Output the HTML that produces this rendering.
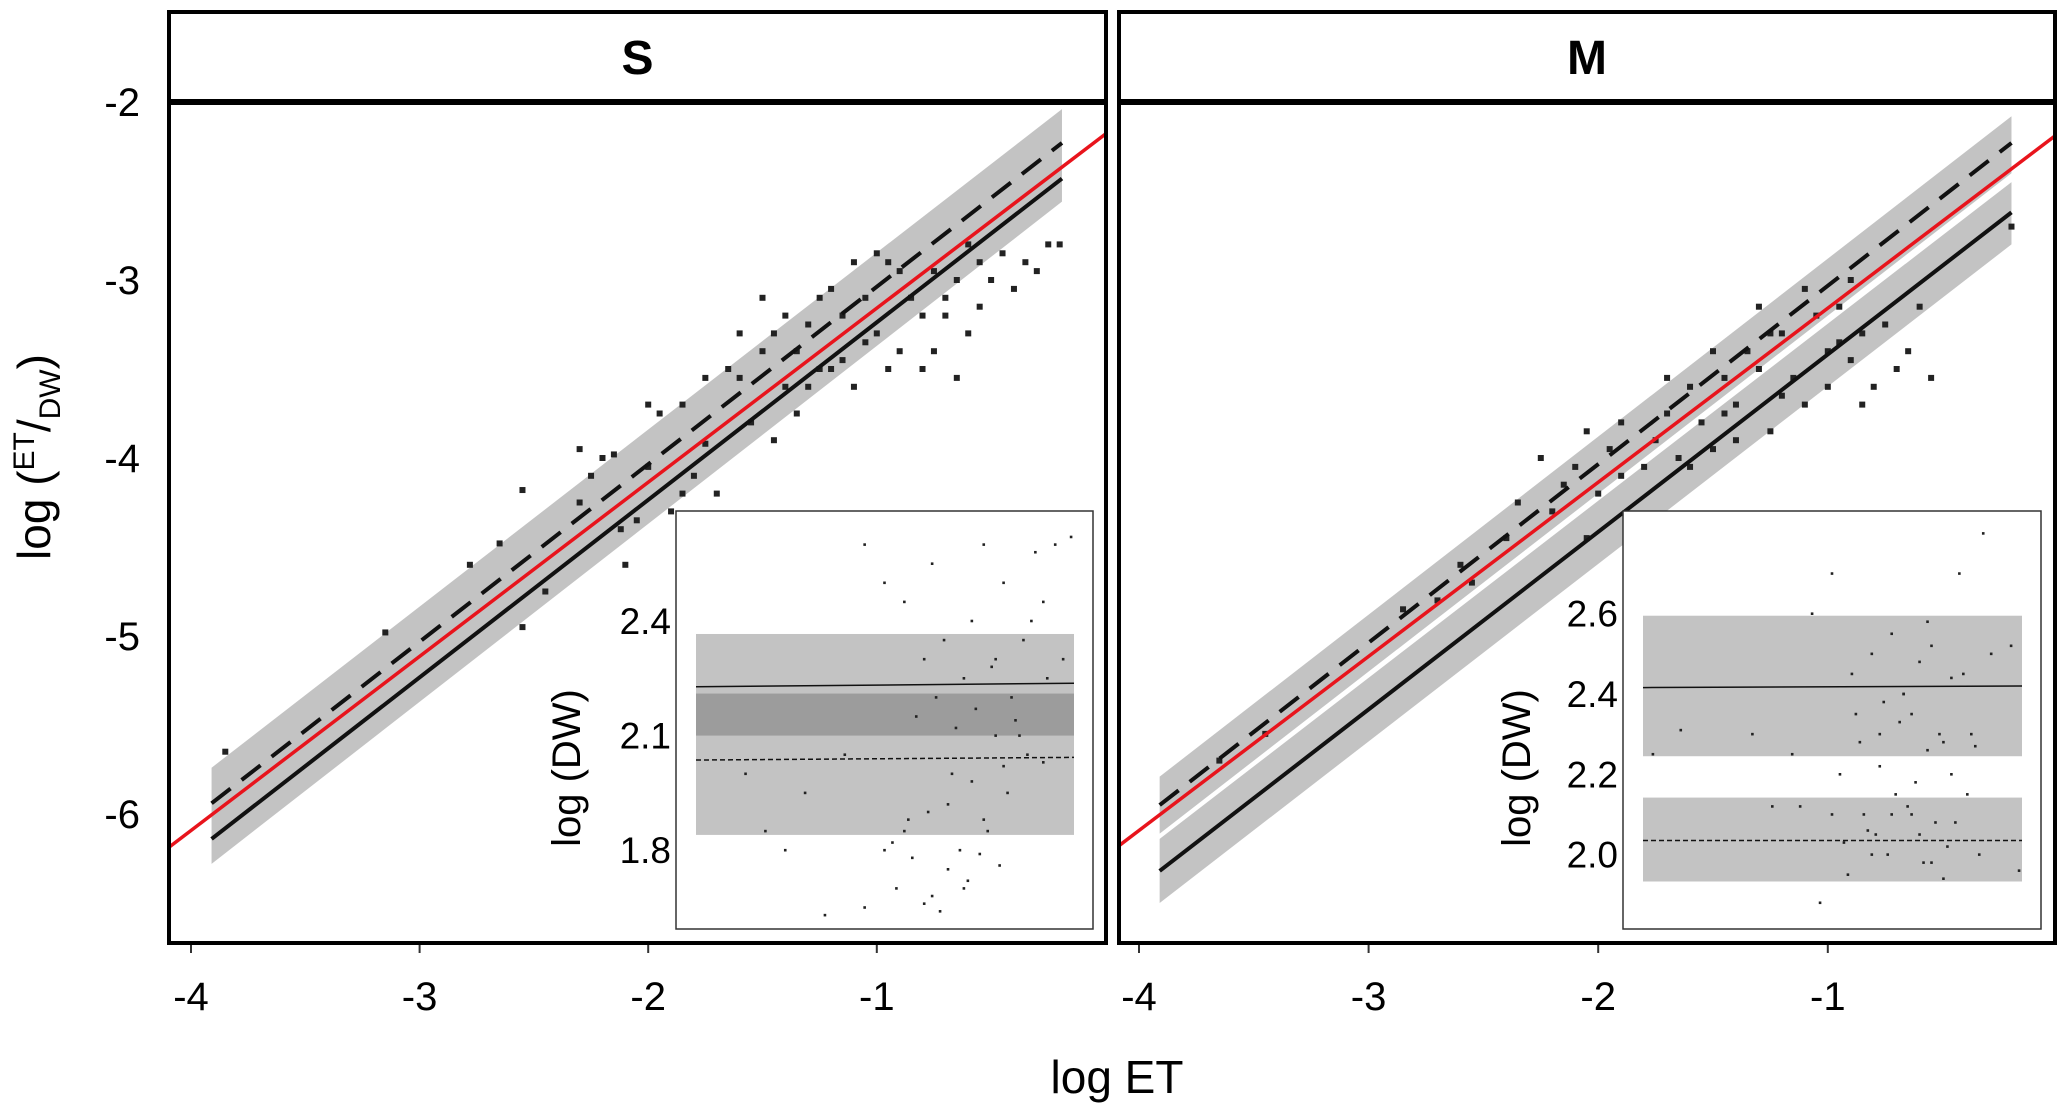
<!DOCTYPE html>
<html><head><meta charset="utf-8"><style>
html,body{margin:0;padding:0;background:#fff;}
svg{display:block;font-family:"Liberation Sans",Arial,sans-serif;}
</style></head><body>
<svg id="chart" width="2067" height="1115" viewBox="0 0 2067 1115" xmlns="http://www.w3.org/2000/svg">
<g id="gS"></g>
<g id="gM"></g>
<text x="1117" y="1093" font-size="46" text-anchor="middle">log ET</text>
<text transform="translate(50,457) rotate(-90)" font-size="46" text-anchor="middle">log (<tspan font-size="30" dy="-16">ET</tspan><tspan dy="16">/</tspan><tspan font-size="30" dy="10">DW</tspan><tspan dy="-10">)</tspan></text>
</svg>
<script>
const xTicks=[-4,-3,-2,-1];
const yTicks=[-2,-3,-4,-5,-6];
const redLine=[[-4.13,-6.22],[0,-2.18]];
const sDashed=[[-3.91,-5.94],[-0.19,-2.23]];
const sSolid=[[-3.91,-6.14],[-0.19,-2.43]];
const sBand=[[-3.91,-5.74,-6.28],[-0.19,-2.04,-2.56]];
const mDashed=[[-3.91,-5.95],[-0.20,-2.23]];
const mSolid=[[-3.91,-6.32],[-0.20,-2.62]];
const mBandD=[[-3.91,-5.79,-6.11],[-0.20,-2.08,-2.40]];
const mBandS=[[-3.91,-6.14,-6.50],[-0.20,-2.45,-2.80]];
const sPtsX=[-3.85,-3.15,-2.78,-2.65,-2.55,-2.55,-2.45,-2.3,-2.25,-2.2,-2.15,-2.12,-2.1,-2.05,-2.0,-1.95,-1.9,-1.85,-1.8,-1.75,-1.7,-1.65,-1.6,-1.55,-1.5,-1.45,-1.4,-1.35,-1.3,-1.25,-1.2,-1.15,-1.1,-1.05,-1.0,-0.95,-0.9,-0.85,-0.8,-0.75,-0.7,-0.65,-0.6,-0.55,-0.5,-0.45,-0.4,-0.35,-0.3,-0.25,-0.2,-1.6,-1.5,-1.4,-1.3,-1.2,-1.1,-1.0,-0.9,-0.8,-0.7,-0.6,-1.75,-1.85,-2.0,-2.3,-1.35,-1.25,-1.05,-0.95,-0.75,-0.65,-0.55,-1.45,-1.15];
const sPtsY=[-5.65,-4.98,-4.6,-4.48,-4.18,-4.95,-4.75,-3.95,-4.1,-4.0,-3.98,-4.4,-4.6,-4.35,-3.7,-3.75,-4.3,-4.2,-4.1,-3.92,-4.2,-3.5,-3.55,-3.8,-3.4,-3.9,-3.6,-3.4,-3.25,-3.5,-3.05,-3.2,-3.6,-3.1,-3.3,-2.9,-3.4,-3.1,-3.2,-3.4,-3.2,-3.0,-3.3,-3.15,-3.0,-2.85,-3.05,-2.9,-2.95,-2.8,-2.8,-3.3,-3.1,-3.2,-3.6,-3.5,-2.9,-2.85,-2.95,-3.5,-3.1,-2.8,-3.55,-3.7,-4.05,-4.25,-3.75,-3.1,-3.35,-3.5,-2.95,-3.55,-2.9,-3.3,-3.45];
const mPtsX=[-3.65,-3.45,-2.85,-2.7,-2.6,-2.55,-2.4,-2.25,-2.2,-2.15,-2.1,-2.05,-2.0,-1.95,-1.9,-1.85,-1.8,-1.75,-1.7,-1.65,-1.6,-1.55,-1.5,-1.45,-1.4,-1.35,-1.3,-1.25,-1.2,-1.15,-1.1,-1.05,-1.0,-0.95,-0.9,-0.85,-0.8,-0.75,-0.7,-0.65,-0.6,-0.55,-0.2,-1.9,-1.7,-1.5,-1.3,-1.1,-0.9,-1.6,-1.4,-1.2,-1.0,-0.85,-2.35,-2.05,-1.8,-1.45,-1.25,-0.95];
const mPtsY=[-5.7,-5.55,-4.85,-4.8,-4.6,-4.7,-4.45,-4.0,-4.3,-4.15,-4.05,-3.85,-4.2,-3.95,-4.1,-4.35,-4.4,-3.9,-3.75,-4.0,-3.6,-3.8,-3.95,-3.55,-3.7,-3.4,-3.5,-3.85,-3.3,-3.55,-3.7,-3.2,-3.4,-3.15,-3.45,-3.3,-3.6,-3.25,-3.5,-3.4,-3.15,-3.55,-2.7,-3.8,-3.55,-3.4,-3.15,-3.05,-3.0,-4.05,-3.9,-3.65,-3.6,-3.7,-4.25,-4.45,-4.05,-3.75,-3.3,-3.35];
/* insets: x as fraction of inset plot width */
const sInsetTicks=[2.4,2.1,1.8];
const sInsetLight=[2.366,1.84];
const sInsetDark=[2.21,2.10];
const sInsetSolid=[2.228,2.237];
const sInsetDashed=[2.036,2.043];
const sInX=[0.45,0.5,0.55,0.6,0.62,0.65,0.7,0.72,0.75,0.78,0.8,0.82,0.85,0.88,0.9,0.93,0.95,0.97,0.58,0.63,0.68,0.73,0.77,0.83,0.87,0.91,0.4,0.3,0.25,0.2,0.15,0.52,0.57,0.66,0.71,0.76,0.81,0.86,0.56,0.61,0.67,0.74,0.79,0.84,0.53,0.6,0.64,0.69,0.35,0.45,0.5,0.55,0.7,0.75,0.8,0.9,0.62,0.66,0.72,0.78];
const sInY=[2.6,2.5,2.45,2.3,2.55,2.35,2.25,2.4,2.6,2.3,2.5,2.2,2.35,2.58,2.45,2.6,2.3,2.62,2.15,2.2,2.12,2.17,2.28,2.14,2.4,2.25,2.05,1.95,1.8,1.85,2.0,1.82,1.78,1.75,1.72,1.85,1.95,2.05,1.88,1.9,2.0,1.79,1.76,2.1,1.7,1.66,1.64,1.8,1.63,1.65,1.8,1.85,1.7,1.88,2.02,2.03,1.68,1.92,1.98,2.1];
const mInsetTicks=[2.6,2.4,2.2,2.0];
const mInsetUpper=[2.595,2.245];
const mInsetLower=[2.142,1.933];
const mInsetSolid=[2.416,2.420];
const mInsetDashed=[2.035,2.035];
const mInX=[0.05,0.12,0.3,0.35,0.4,0.45,0.5,0.55,0.6,0.62,0.65,0.68,0.7,0.72,0.75,0.78,0.8,0.82,0.85,0.88,0.95,0.97,0.52,0.57,0.63,0.67,0.71,0.74,0.77,0.83,0.58,0.61,0.64,0.69,0.73,0.76,0.79,0.5,0.54,0.59,0.66,0.7,0.75,0.81,0.87,0.47,0.53,0.6,0.65,0.72,0.78,0.84,0.42,0.56,0.62,0.68,0.74,0.8,0.86,0.9];
const mInY=[2.25,2.31,2.3,2.12,2.25,2.6,2.7,2.45,2.5,2.3,2.55,2.4,2.35,2.48,2.52,2.28,2.44,2.7,2.3,2.8,2.52,1.96,2.2,2.28,2.38,2.33,2.18,2.26,2.3,2.45,2.1,2.05,2.0,2.12,1.98,2.08,2.02,2.1,1.95,2.06,2.15,2.1,1.98,2.08,2.0,1.88,2.03,2.0,2.1,2.05,1.94,2.15,2.12,2.35,2.22,2.4,2.58,2.2,2.27,2.5];

const NS='http://www.w3.org/2000/svg';
function mk(parent,tag,attrs){const e=document.createElementNS(NS,tag);for(const k in attrs)e.setAttribute(k,attrs[k]);parent.appendChild(e);return e;}

function panel(g,cfg){
  const X=v=>cfg.x0+(v+4)*cfg.kx;
  const Y=v=>102+(-2-v)*178;
  for(const band of cfg.bands){
    const p=`${X(band[0][0])},${Y(band[0][1])} ${X(band[1][0])},${Y(band[1][1])} ${X(band[1][0])},${Y(band[1][2])} ${X(band[0][0])},${Y(band[0][2])}`;
    const b=mk(g,'polygon',{points:p,fill:'#c3c3c3'});
    
    
  }
  for(let i=0;i<cfg.px.length;i++){
    const c=mk(g,'rect',{x:X(cfg.px[i])-3,y:Y(cfg.py[i])-3,width:6,height:6,fill:'#222'});
    
    
  }
  const ln=(pts,st,dash,w,name)=>{const l=mk(g,'line',{x1:X(pts[0][0]),y1:Y(pts[0][1]),x2:X(pts[1][0]),y2:Y(pts[1][1]),stroke:st,'stroke-width':w});if(dash)l.setAttribute('stroke-dasharray',dash);
    
    };
  ln(cfg.dashed,'#111','24,14',4,'dashed-fit-line');
  ln(cfg.solid,'#111',null,4,'solid-fit-line');
  const r=redLine, xl=(cfg.left-cfg.x0)/cfg.kx-4, xr=(cfg.right-cfg.x0)/cfg.kx-4;
  const sl=(r[1][1]-r[0][1])/(r[1][0]-r[0][0]);
  const rl=mk(g,'line',{x1:cfg.left,y1:Y(r[0][1]+sl*(xl-r[0][0])),x2:cfg.right,y2:Y(r[0][1]+sl*(xr-r[0][0])),stroke:'#e8141c','stroke-width':3.5});
  
  
  const ins=cfg.inset, IY=v=>ins.yRef+(ins.vRef-v)*ins.k;
  const ibg=mk(g,'rect',{x:ins.x,y:511,width:ins.w,height:418,fill:'#fff',stroke:'#333','stroke-width':1.5});
  
  
  for(const bd of ins.bands){
    const r2=mk(g,'rect',{x:ins.bx0,y:IY(bd.v[0]),width:ins.bx1-ins.bx0,height:IY(bd.v[1])-IY(bd.v[0]),fill:bd.c});
    
    
  }
  for(let i=0;i<ins.px.length;i++){
    const d=mk(g,'rect',{x:ins.x+10+ins.px[i]*(ins.w-20)-1.3,y:IY(ins.py[i])-1.3,width:2.6,height:2.6,fill:'#222'});
    
    
  }
  const il=(v,dash,name)=>{const l=mk(g,'line',{x1:ins.bx0,y1:IY(v[0]),x2:ins.bx1,y2:IY(v[1]),stroke:'#111','stroke-width':1.5});if(dash)l.setAttribute('stroke-dasharray','5,3');
    
    };
  il(ins.solid,null,'inset-solid-line');il(ins.dashed,true,'inset-dashed-line');
  for(const t of ins.ticks){
    const tt=mk(g,'text',{x:ins.x-5,y:IY(t)+13,'font-size':37,'text-anchor':'end'});tt.textContent=t.toFixed(1);
    
    
  }
  const lab=mk(g,'text',{transform:`translate(${ins.labX},768) rotate(-90)`,'font-size':40,'text-anchor':'middle'});lab.textContent='log (DW)';
  
  
  const fr=mk(g,'rect',{x:cfg.left,y:12,width:cfg.right-cfg.left,height:931,fill:'none',stroke:'#000','stroke-width':4});
  
  
  const sl2=mk(g,'line',{x1:cfg.left,y1:102,x2:cfg.right,y2:102,stroke:'#000','stroke-width':6});
  
  
  const st=mk(g,'text',{x:(cfg.left+cfg.right)/2,y:74,'font-size':48,'font-weight':'bold','text-anchor':'middle'});st.textContent=cfg.title;
  
  
  for(const t of xTicks){
    const tk=mk(g,'line',{x1:X(t),y1:945,x2:X(t),y2:953,stroke:'#333','stroke-width':2});
    
    
    const tl=mk(g,'text',{x:X(t),y:1010,'font-size':40,'text-anchor':'middle'});tl.textContent=String(t);
    
    
  }
  if(cfg.yLabels){for(const t of yTicks){
    const tl=mk(g,'text',{x:140,y:Y(t)+14,'font-size':40,'text-anchor':'end'});tl.textContent=String(t);
    
    
  }}
}
panel(document.getElementById('gS'),{title:'S',left:169,right:1106,x0:191,kx:228.6,yLabels:true,
  bands:[sBand],dashed:sDashed,solid:sSolid,px:sPtsX,py:sPtsY,
  inset:{x:676,w:417,bx0:696,bx1:1074,yRef:621,vRef:2.4,k:382,labX:580,ticks:sInsetTicks,
    bands:[{v:sInsetLight,c:'#c3c3c3'},{v:sInsetDark,c:'#9c9c9c'}],solid:sInsetSolid,dashed:sInsetDashed,px:sInX,py:sInY}});
panel(document.getElementById('gM'),{title:'M',left:1119,right:2055,x0:1139,kx:229.6,yLabels:false,
  bands:[mBandD,mBandS],dashed:mDashed,solid:mSolid,px:mPtsX,py:mPtsY,
  inset:{x:1623,w:418,bx0:1643,bx1:2022,yRef:694,vRef:2.4,k:401.5,labX:1530,ticks:mInsetTicks,
    bands:[{v:mInsetUpper,c:'#c3c3c3'},{v:mInsetLower,c:'#c3c3c3'}],solid:mInsetSolid,dashed:mInsetDashed,px:mInX,py:mInY}});
</script>
</body></html>
